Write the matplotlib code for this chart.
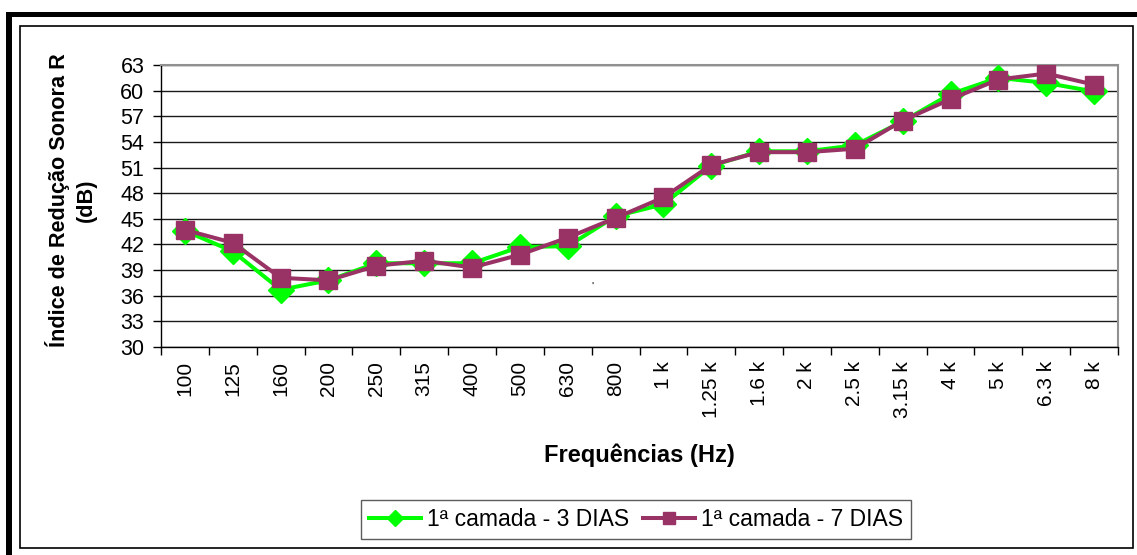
import matplotlib.pyplot as plt
from matplotlib.patches import Rectangle
import numpy as np

plt.rcParams['font.family'] = ['Liberation Sans', 'DejaVu Sans']

freqs = ['100', '125', '160', '200', '250', '315', '400', '500', '630', '800',
         '1 k', '1.25 k', '1.6 k', '2 k', '2.5 k', '3.15 k', '4 k', '5 k', '6.3 k', '8 k']
r_3dias = [43.6, 41.2, 36.7, 37.8, 39.8, 39.8, 39.8, 41.7, 41.8, 45.3,
           46.7, 51.2, 52.9, 52.9, 53.6, 56.4, 59.6, 61.5, 60.9, 59.9]
r_7dias = [43.7, 42.2, 38.1, 37.8, 39.5, 40.1, 39.3, 40.8, 42.8, 45.1,
           47.5, 51.3, 52.8, 52.8, 53.2, 56.5, 59.0, 61.3, 62.0, 60.7]

W, H = 1137, 555
fig = plt.figure(figsize=(W / 100, H / 100), dpi=100)

# page borders (thick outer, thin inner)
fig.add_artist(Rectangle((6 / W, 0), 6 / W, 1 - 12 / H, transform=fig.transFigure,
                         color='black', lw=0))
fig.add_artist(Rectangle((6 / W, 1 - 17 / H), 1, 5 / H, transform=fig.transFigure,
                         color='black', lw=0))
fig.add_artist(Rectangle((20 / W, 1 - 548 / H), (1133 - 20) / W, (548 - 26) / H,
                         transform=fig.transFigure, fill=False, ec='black', lw=1.2))

ax = fig.add_axes([161 / W, 1 - 347 / H, (1118 - 161) / W, (347 - 65) / H])
x = np.arange(len(freqs))
ax.plot(x, r_3dias, color='#00ff00', lw=2.9, marker='D', ms=13, mec='#00ff00',
        label='1ª camada - 3 DIAS', zorder=3)
ax.plot(x, r_7dias, color='#993366', lw=2.9, marker='s', ms=12.5, mec='#993366',
        label='1ª camada - 7 DIAS', zorder=4)

ax.set_xlim(-0.5, len(freqs) - 0.5)
ax.set_ylim(30, 63)
ax.set_yticks(np.arange(30, 64, 3))
ax.tick_params(axis='y', labelsize=15.5, length=6, width=1, pad=6)
ax.set_xticks(x)
ax.set_xticklabels(freqs, rotation=90, fontsize=15)
ax.tick_params(axis='x', which='major', length=0, pad=10)
ax.set_xticks(np.arange(-0.5, len(freqs), 1), minor=True)
ax.tick_params(axis='x', which='minor', length=6, width=1, direction='out')
ax.grid(axis='y', color='#1a1a1a', lw=1)
ax.set_axisbelow(True)
for s in ['top', 'right']:
    ax.spines[s].set_color('#909090')
    ax.spines[s].set_linewidth(1.5)
for s in ['left', 'bottom']:
    ax.spines[s].set_color('black')
    ax.spines[s].set_linewidth(1)

ax.set_ylabel('Índice de Redução Sonora R\n(dB)', fontsize=15.6, fontweight='bold',
              linespacing=1.35)
ax.yaxis.set_label_coords((97 - 161) / (1118 - 161), 0.52)
ax.set_xlabel('Frequências (Hz)', fontsize=17, fontweight='bold')
ax.xaxis.set_label_coords(0.5, 1 - (455 - 65) / (347 - 65))
ax.xaxis.label.set_va('center')

fig.text(592 / W, 1 - 287 / H, "'", fontsize=8, ha='center', va='center')

leg = fig.legend(loc='center', bbox_to_anchor=(636 / W, 1 - 519.5 / H), ncol=2,
                 fontsize=16.5, frameon=True, fancybox=False, edgecolor='#333333',
                 handlelength=2.3, handletextpad=0.26, columnspacing=0.57,
                 borderpad=0.35, markerscale=0.65)
leg.get_frame().set_linewidth(1)

fig.savefig('out.png', dpi=100)
